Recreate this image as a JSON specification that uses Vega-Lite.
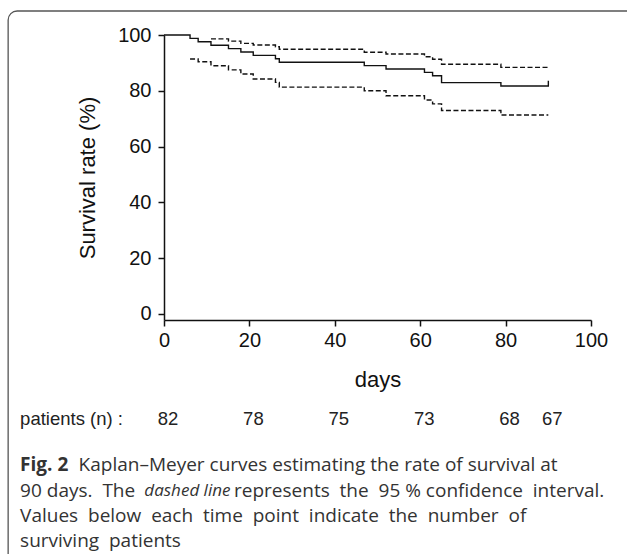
{
  "$schema": "https://vega.github.io/schema/vega-lite/v6.json",
  "width": 427,
  "height": 285,
  "autosize": {"type": "none"},
  "padding": {"left": 164, "top": 35, "right": 36, "bottom": 234},
  "background": "white",
  "config": {
    "view": {"stroke": null},
    "axis": {
      "grid": false,
      "domainColor": "#111",
      "tickColor": "#111",
      "labelColor": "#111",
      "titleColor": "#111",
      "labelFont": "Liberation Sans",
      "titleFont": "Liberation Sans",
      "titleFontWeight": "normal",
      "domainWidth": 1.5,
      "tickWidth": 1.5,
      "tickSize": 6,
      "labelFontSize": 20,
      "labelFlush": false
    }
  },
  "datasets": {
    "km": [
      {"series": "estimate", "day": 0, "value": 100},
      {"series": "estimate", "day": 6.1, "value": 98.78},
      {"series": "estimate", "day": 8.0, "value": 97.56},
      {"series": "estimate", "day": 11.0, "value": 96.34},
      {"series": "estimate", "day": 15.1, "value": 95.12},
      {"series": "estimate", "day": 18.0, "value": 93.9},
      {"series": "estimate", "day": 20.9, "value": 92.68},
      {"series": "estimate", "day": 26.1, "value": 91.46},
      {"series": "estimate", "day": 27.0, "value": 90.24},
      {"series": "estimate", "day": 46.9, "value": 89.02},
      {"series": "estimate", "day": 52.0, "value": 87.8},
      {"series": "estimate", "day": 61.0, "value": 86.59},
      {"series": "estimate", "day": 62.9, "value": 85.37},
      {"series": "estimate", "day": 65.0, "value": 82.93},
      {"series": "estimate", "day": 78.9, "value": 81.71},
      {"series": "estimate", "day": 90.0, "value": 81.71},
      {"series": "estimate", "day": 90.01, "value": 83.6},
      {"series": "upper", "day": 11.0, "value": 98.6},
      {"series": "upper", "day": 15.1, "value": 97.8},
      {"series": "upper", "day": 18.0, "value": 97.0},
      {"series": "upper", "day": 20.9, "value": 96.4},
      {"series": "upper", "day": 26.1, "value": 95.8},
      {"series": "upper", "day": 27.0, "value": 94.9},
      {"series": "upper", "day": 46.9, "value": 93.8},
      {"series": "upper", "day": 52.0, "value": 93.2},
      {"series": "upper", "day": 61.0, "value": 92.2},
      {"series": "upper", "day": 62.9, "value": 91.3},
      {"series": "upper", "day": 65.0, "value": 89.5},
      {"series": "upper", "day": 78.9, "value": 88.4},
      {"series": "upper", "day": 90.0, "value": 88.4},
      {"series": "lower", "day": 6.1, "value": 91.4},
      {"series": "lower", "day": 8.0, "value": 90.4},
      {"series": "lower", "day": 11.0, "value": 89.0},
      {"series": "lower", "day": 15.1, "value": 87.5},
      {"series": "lower", "day": 18.0, "value": 86.0},
      {"series": "lower", "day": 20.9, "value": 84.2},
      {"series": "lower", "day": 26.1, "value": 83.0},
      {"series": "lower", "day": 27.0, "value": 81.3},
      {"series": "lower", "day": 46.9, "value": 80.0},
      {"series": "lower", "day": 52.0, "value": 78.2},
      {"series": "lower", "day": 61.0, "value": 76.7},
      {"series": "lower", "day": 62.9, "value": 75.3},
      {"series": "lower", "day": 65.0, "value": 72.9},
      {"series": "lower", "day": 78.9, "value": 71.3},
      {"series": "lower", "day": 90.0, "value": 71.3}
    ],
    "risk": [
      {"day": 0, "n": 82},
      {"day": 20, "n": 78},
      {"day": 40, "n": 75},
      {"day": 60, "n": 73},
      {"day": 80, "n": 68},
      {"day": 90, "n": 67}
    ]
  },
  "layer": [
    {
      "data": {"name": "km"},
      "mark": {"type": "line", "interpolate": "step-after", "color": "#111", "strokeWidth": 1.4},
      "encoding": {
        "x": {
          "field": "day", "type": "quantitative",
          "scale": {"domain": [0, 100], "nice": false, "zero": false},
          "axis": {"values": [0, 20, 40, 60, 80, 100], "title": "days", "titleFontSize": 22, "titlePadding": 19, "labelPadding": 4}
        },
        "y": {
          "field": "value", "type": "quantitative",
          "scale": {"domain": [-2.2, 100], "nice": false, "zero": false},
          "axis": {"values": [0, 20, 40, 60, 80, 100], "title": "Survival rate (%)", "titleFontSize": 22, "titlePadding": 18, "labelPadding": 7}
        },
        "strokeDash": {
          "field": "series", "type": "nominal",
          "scale": {"domain": ["estimate", "upper", "lower"], "range": [[1, 0], [5, 2.5], [5, 2.5]]},
          "legend": null
        }
      }
    },
    {
      "data": {"values": [{}]},
      "mark": {"type": "rect", "fill": null, "filled": false, "stroke": "#555", "strokeWidth": 1.3, "cornerRadius": 9},
      "encoding": {
        "x": {"datum": -36.5, "type": "quantitative"},
        "x2": {"datum": 112},
        "y": {"datum": 108.6, "type": "quantitative"},
        "y2": {"datum": -90}
      }
    },
    {
      "data": {"values": [{}]},
      "mark": {"type": "text", "text": "patients (n) :", "align": "left", "baseline": "middle", "font": "Liberation Sans", "fontSize": 18.5, "color": "#222"},
      "encoding": {
        "x": {"datum": -33.7, "type": "quantitative"},
        "y": {"datum": -37.7, "type": "quantitative"}
      }
    },
    {
      "data": {"name": "risk"},
      "mark": {"type": "text", "align": "center", "baseline": "middle", "dx": 4, "font": "Liberation Sans", "fontSize": 18.5, "color": "#222"},
      "encoding": {
        "x": {"field": "day", "type": "quantitative"},
        "y": {"datum": -37.7, "type": "quantitative"},
        "text": {"field": "n", "type": "quantitative"}
      }
    },
    {
      "data": {"values": [{}]},
      "mark": {"type": "text", "text": "Fig. 2", "align": "left", "baseline": "middle", "font": "Open Sans", "fontWeight": "bold", "fontSize": 19, "color": "#333"},
      "encoding": {
        "x": {"datum": -33.7, "type": "quantitative"},
        "y": {"datum": -54.2, "type": "quantitative"}
      }
    },
    {
      "data": {"values": [{}]},
      "mark": {"type": "text", "text": "Kaplan–Meyer curves estimating the rate of survival at", "align": "left", "baseline": "middle", "font": "Open Sans", "fontSize": 19, "color": "#333"},
      "encoding": {
        "x": {"datum": -20.0, "type": "quantitative"},
        "y": {"datum": -54.2, "type": "quantitative"}
      }
    },
    {
      "data": {"values": [{}]},
      "mark": {"type": "text", "text": "90 days.\u00a0 The", "align": "left", "baseline": "middle", "font": "Open Sans", "fontSize": 19, "color": "#333"},
      "encoding": {
        "x": {"datum": -33.7, "type": "quantitative"},
        "y": {"datum": -63.5, "type": "quantitative"}
      }
    },
    {
      "data": {"values": [{}]},
      "mark": {"type": "text", "text": "dashed line", "align": "left", "baseline": "middle", "font": "Open Sans", "fontStyle": "italic", "fontSize": 17, "color": "#333"},
      "encoding": {
        "x": {"datum": -4.6, "type": "quantitative"},
        "y": {"datum": -63.5, "type": "quantitative"}
      }
    },
    {
      "data": {"values": [{}]},
      "mark": {"type": "text", "text": "represents\u00a0 the\u00a0 95 % confidence\u00a0 interval.", "align": "left", "baseline": "middle", "font": "Open Sans", "fontSize": 19, "color": "#333"},
      "encoding": {
        "x": {"datum": 16.4, "type": "quantitative"},
        "y": {"datum": -63.5, "type": "quantitative"}
      }
    },
    {
      "data": {"values": [{}]},
      "mark": {"type": "text", "text": "Values\u00a0 below\u00a0 each\u00a0 time\u00a0 point\u00a0 indicate\u00a0 the\u00a0 number\u00a0 of", "align": "left", "baseline": "middle", "font": "Open Sans", "fontSize": 19, "color": "#333"},
      "encoding": {
        "x": {"datum": -33.7, "type": "quantitative"},
        "y": {"datum": -72.5, "type": "quantitative"}
      }
    },
    {
      "data": {"values": [{}]},
      "mark": {"type": "text", "text": "surviving\u00a0 patients", "align": "left", "baseline": "middle", "font": "Open Sans", "fontSize": 19, "color": "#333"},
      "encoding": {
        "x": {"datum": -33.7, "type": "quantitative"},
        "y": {"datum": -81.45, "type": "quantitative"}
      }
    }
  ]
}
